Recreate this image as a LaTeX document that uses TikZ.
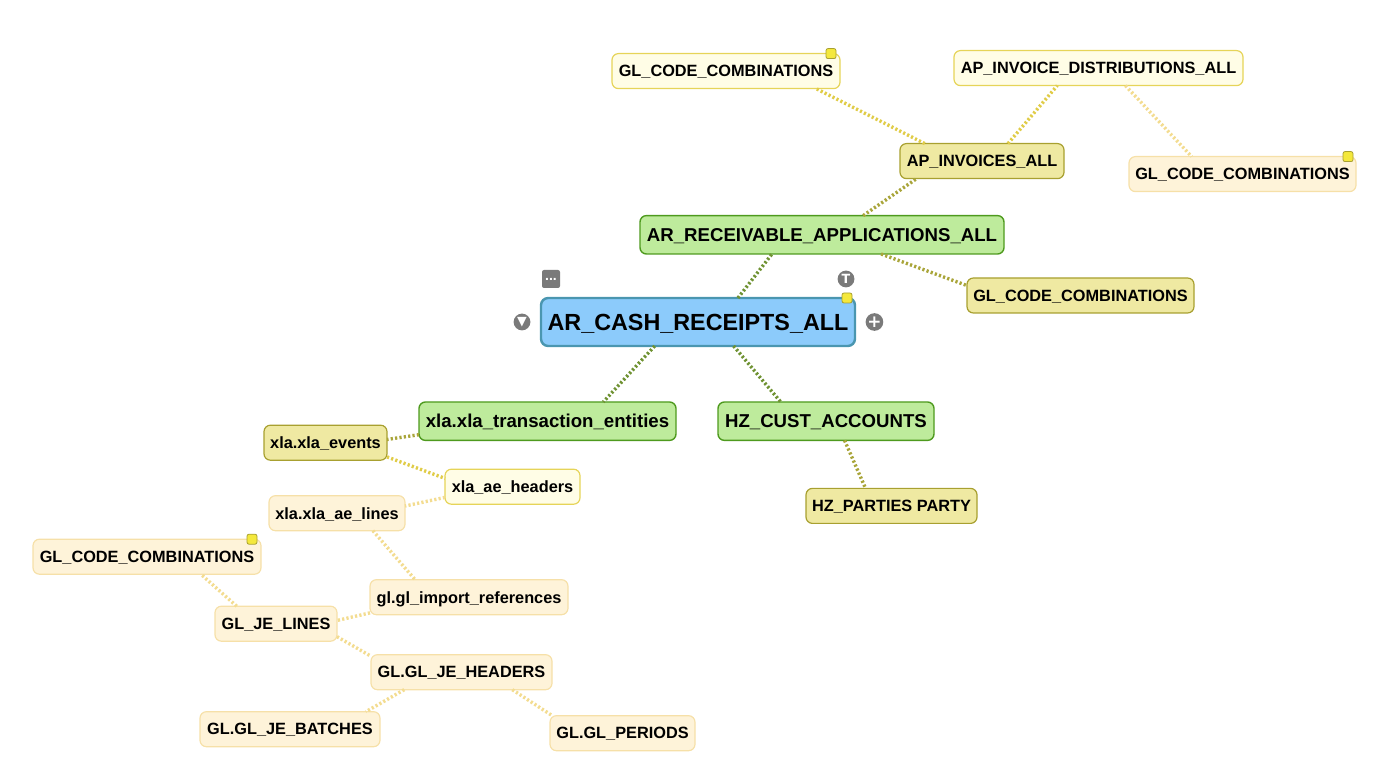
\documentclass[tikz,border=0pt]{standalone}
\usepackage{fontspec}
\setmainfont{Liberation Sans}
\newfontfamily\symfont{DejaVu Sans}
\usetikzlibrary{positioning}
\definecolor{rootfill}{HTML}{8CCBFB}
\definecolor{rootline}{HTML}{4A96B0}
\definecolor{onefill}{HTML}{BEEB9C}
\definecolor{oneline}{HTML}{4E9A1E}
\definecolor{twofill}{HTML}{EFE9A2}
\definecolor{twoline}{HTML}{A8A030}
\definecolor{thrfill}{HTML}{FFFDE6}
\definecolor{thrline}{HTML}{E6D458}
\definecolor{forfill}{HTML}{FEF3D9}
\definecolor{forline}{HTML}{F6E0A8}
\definecolor{lnkone}{HTML}{6F9232}
\definecolor{lnktwo}{HTML}{A9A53A}
\definecolor{lnkthr}{HTML}{E0CC48}
\definecolor{lnkfor}{HTML}{F3DC90}
\definecolor{icongray}{HTML}{7A7A7A}
\definecolor{notefill}{HTML}{F4E83C}
\begin{document}
\begin{tikzpicture}[
  every node/.style={font=\fontsize{11.6}{14}\selectfont\bfseries, outer sep=0pt, inner sep=0pt},
  rootbox/.style={draw=rootline, fill=rootfill, line width=.6mm, rounded corners=1.8mm, text depth=0pt,
              minimum height=12mm, font=\fontsize{16.6}{20}\selectfont\bfseries},
  oneb/.style={draw=oneline, fill=onefill, line width=.35mm, rounded corners=1.6mm, text depth=0pt,
              minimum height=9.6mm, font=\fontsize{13.25}{16}\selectfont\bfseries},
  twob/.style={draw=twoline, fill=twofill, line width=.3mm, rounded corners=1.6mm, text depth=0pt, minimum height=8.75mm},
  thrb/.style={draw=thrline, fill=thrfill, line width=.3mm, rounded corners=1.6mm, text depth=0pt, minimum height=8.75mm},
  forb/.style={draw=forline, fill=forfill, line width=.3mm, rounded corners=1.6mm, text depth=0pt, minimum height=8.75mm},
  notemark/.style={draw=twoline, fill=notefill, line width=.2mm, rounded corners=.5mm, minimum size=2.5mm},
  iconbox/.style={fill=icongray, rounded corners=.5mm, minimum size=4.5mm, text=white,
              font=\fontsize{10}{10}\selectfont\bfseries},
  iconround/.style={circle, fill=icongray, minimum size=4.2mm, text=white,
              font=\symfont\fontsize{9}{9}\selectfont\bfseries},
  lnk/.style={line width=.85mm, dash pattern=on .55mm off .55mm}
]
\useasboundingbox (0,0) rectangle (350mm,-195.25mm);

\node[rootbox, minimum width=78.5mm] (root) at (174.5mm,-80.5mm) {AR\_CASH\_RECEIPTS\_ALL};

\node[oneb, minimum width=91mm, above=11mm of root, xshift=31mm] (recv) {AR\_RECEIVABLE\_APPLICATIONS\_ALL};
\node[oneb, minimum width=64.25mm, below=14mm of root, xshift=-37.625mm] (xte) {xla.xla\_transaction\_entities};
\node[oneb, minimum width=54mm, below=14mm of root, xshift=32mm] (hzc) {HZ\_CUST\_ACCOUNTS};

\node[twob, minimum width=41mm, above=9.25mm of recv, xshift=40mm] (apinv) {AP\_INVOICES\_ALL};
\node[twob, minimum width=56.75mm, below=6mm of recv, xshift=64.625mm] (glc) {GL\_CODE\_COMBINATIONS};
\node[twob, minimum width=42.75mm, below=12mm of hzc, xshift=16.375mm] (hzp) {HZ\_PARTIES PARTY};
\node[twob, minimum width=30.75mm, left=8mm of xte, yshift=-5.375mm] (events) {xla.xla\_events};

\node[thrb, minimum width=57mm, above=13.75mm of apinv, xshift=-64mm] (gla) {GL\_CODE\_COMBINATIONS};
\node[thrb, minimum width=72.25mm, above=14.5mm of apinv, xshift=29.125mm] (apdist) {AP\_INVOICE\_DISTRIBUTIONS\_ALL};
\node[thrb, minimum width=33.75mm, below=2.25mm of events, xshift=46.75mm] (headers) {xla\_ae\_headers};

\node[forb, minimum width=56.75mm, below=17.75mm of apdist, xshift=36mm] (glb) {GL\_CODE\_COMBINATIONS};
\node[forb, minimum width=34mm, left=10mm of headers, yshift=-6.625mm] (lines) {xla.xla\_ae\_lines};
\node[forb, minimum width=49.5mm, below=12.25mm of lines, xshift=33mm] (imp) {gl.gl\_import\_references};
\node[forb, minimum width=30.5mm, left=8.25mm of imp, yshift=-6.625mm] (jel) {GL\_JE\_LINES};
\node[forb, minimum width=57mm, above=8mm of jel, xshift=-32.25mm] (gld) {GL\_CODE\_COMBINATIONS};
\node[forb, minimum width=45.25mm, below=10mm of imp, xshift=-1.875mm] (jeh) {GL.GL\_JE\_HEADERS};
\node[forb, minimum width=45mm, below=5.5mm of jeh, xshift=-42.875mm] (batch) {GL.GL\_JE\_BATCHES};
\node[forb, minimum width=36.25mm, below=6.5mm of jeh, xshift=40.25mm] (periods) {GL.GL\_PERIODS};

% note markers and the tool icons round the selected table
\node[notemark, xshift=-2mm] (noteroot) at (root.north east) {};
\node[notemark, xshift=-2.25mm] (notea) at (gla.north east) {};
\node[notemark, xshift=-2mm] (noteb) at (glb.north east) {};
\node[notemark, xshift=-2.25mm] (noted) at (gld.north east) {};
\node[iconbox, above=2.5mm of root.north west, xshift=2.5mm] (menu) {...};
\node[iconround, above=2.65mm of root.north east, xshift=-2.25mm] (topic) {T};
\node[iconround, left=2.65mm of root] (collapse) {▼};
\node[iconround, right=2.65mm of root, font=\symfont\fontsize{12}{12}\selectfont\bfseries] (expand) {+};

\draw[lnk, lnkone] (root.31) -- (recv.201);
\draw[lnk, lnkone] (root.209) -- (xte.19);
\draw[lnk, lnkone] (root.-34) -- (hzc.157);
\draw[lnk, lnktwo] (recv.25) -- (apinv.195);
\draw[lnk, lnktwo] (recv.-18) -- (glc.175);
\draw[lnk, lnktwo] (hzc.-46) -- (hzp.146);
\draw[lnk, lnktwo] (xte.186) -- (events.3);
\draw[lnk, lnkthr] (apinv.163) -- (gla.-11);
\draw[lnk, lnkthr] (apinv.34) -- (apdist.203);
\draw[lnk, lnkthr] (events.-13) -- (headers.173);
\draw[lnk, lnkfor] (apdist.-33) -- (glb.161);
\draw[lnk, lnkfor] (headers.189) -- (lines.6);
\draw[lnk, lnkfor] (lines.-26) -- (imp.162);
\draw[lnk, lnkfor] (imp.189) -- (jel.3);
\draw[lnk, lnkfor] (jel.156) -- (gld.-18);
\draw[lnk, lnkfor] (jel.-12) -- (jeh.170);
\draw[lnk, lnkfor] (jeh.197) -- (batch.13);
\draw[lnk, lnkfor] (jeh.-19) -- (periods.166);
\end{tikzpicture}
\end{document}
